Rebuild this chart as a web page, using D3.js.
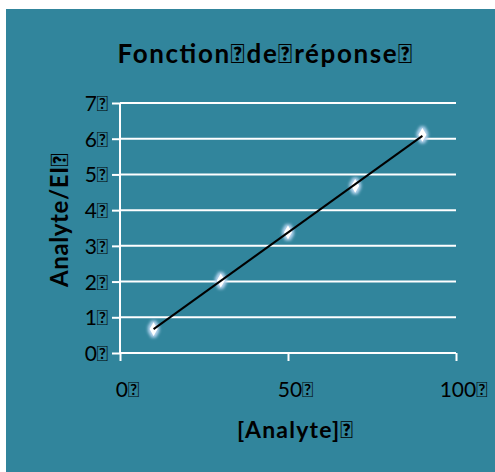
<!DOCTYPE html>
<html lang="fr">
<head>
<meta charset="utf-8">
<title>Fonction de réponse</title>
<script src="https://cdn.jsdelivr.net/npm/d3@7"></script>
<style>
  body { margin: 0; background: #fff; }
  text { font-family: Lato, "Open Sans", sans-serif; fill: #000; }
</style>
</head>
<body>
<script>
// data
var concentrations = [10, 30, 50, 70, 90];
var ratios = [0.67, 2.03, 3.38, 4.68, 6.11];
var yTicks = [0, 1, 2, 3, 4, 5, 6, 7];
var xTicks = [0, 50, 100];
var tofu = "\uE000"; // the source shows missing-glyph boxes in place of spaces

var w = 495, h = 472;
var svg = d3.select("body").append("svg").attr("width", w).attr("height", h);

var defs = svg.append("defs");
var glow = defs.append("filter").attr("id", "glow")
  .attr("x", "-150%").attr("y", "-150%").attr("width", "400%").attr("height", "400%");
glow.append("feMorphology").attr("in", "SourceAlpha").attr("operator", "dilate").attr("radius", 2).attr("result", "d");
glow.append("feGaussianBlur").attr("in", "d").attr("stdDeviation", 1.8).attr("result", "b");
glow.append("feFlood").attr("flood-color", "#b4d3ee");
glow.append("feComposite").attr("in2", "b").attr("operator", "in").attr("result", "c");
var merge = glow.append("feMerge");
merge.append("feMergeNode").attr("in", "c");
merge.append("feMergeNode").attr("in", "SourceGraphic");

// background
svg.append("rect").attr("x", 6).attr("y", 9).attr("width", w - 6).attr("height", h - 9)
  .attr("fill", "#31859c");

var x = d3.scaleLinear().domain([0, 100]).range([120, 456]);
var y = d3.scaleLinear().domain([0, 7]).range([353, 103]);

// gridlines
svg.append("g").selectAll("line").data(yTicks.filter(function(d){ return d > 0; })).enter()
  .append("line")
  .attr("x1", x(0)).attr("x2", x(100))
  .attr("y1", function(d){ return y(d); }).attr("y2", function(d){ return y(d); })
  .attr("stroke", "#fff").attr("stroke-width", 2);

// axes
var yAxis = svg.append("g").attr("transform", "translate(" + x(0) + ",0)")
  .call(d3.axisLeft(y).tickValues(yTicks).tickSize(8).tickFormat(function(d){ return d + tofu; }));
var xAxis = svg.append("g").attr("transform", "translate(0," + y(0) + ")")
  .call(d3.axisBottom(x).tickValues(xTicks).tickSize(8).tickFormat(function(d){ return d + tofu; }));

[xAxis, yAxis].forEach(function(g){
  g.select(".domain").attr("stroke", "#fff").attr("stroke-width", 2);
  g.selectAll(".tick line").attr("stroke", "#fff").attr("stroke-width", 2);
  g.selectAll(".tick text").attr("font-family", "Lato, sans-serif").attr("font-size", "21px").attr("fill", "#000");
});
yAxis.select(".domain").attr("d", "M0," + y(7) + "V" + y(0));
xAxis.select(".domain").attr("d", "M" + x(0) + ",0H" + x(100));
yAxis.selectAll(".tick text").attr("x", -12).attr("dy", "0.36em");
xAxis.selectAll(".tick text").attr("y", 44).attr("dx", 7).attr("dy", null);

// linear trendline (least squares)
var mx = d3.mean(concentrations), my = d3.mean(ratios);
var sxy = d3.sum(concentrations, function(c, i){ return (c - mx) * (ratios[i] - my); });
var sxx = d3.sum(concentrations, function(c){ return (c - mx) * (c - mx); });
var slope = sxy / sxx, icpt = my - slope * mx;
var x0 = d3.min(concentrations), x1 = d3.max(concentrations);

// markers
svg.append("g").selectAll("path").data(concentrations).enter().append("path")
  .attr("d", d3.symbol().type(d3.symbolDiamond).size(55))
  .attr("transform", function(d, i){ return "translate(" + x(d) + "," + y(ratios[i]) + ")"; })
  .attr("fill", "#fff").attr("filter", "url(#glow)");

svg.append("line")
  .attr("x1", x(x0)).attr("y1", y(slope * x0 + icpt))
  .attr("x2", x(x1)).attr("y2", y(slope * x1 + icpt))
  .attr("stroke", "#000").attr("stroke-width", 2);

// titles
svg.append("text").attr("x", 265).attr("y", 63).attr("text-anchor", "middle")
  .attr("font-size", "26px").attr("font-weight", "bold")
  .attr("textLength", 295).attr("lengthAdjust", "spacing")
  .text("Fonction" + tofu + "de" + tofu + "réponse" + tofu);
svg.append("text").attr("x", 295).attr("y", 438).attr("text-anchor", "middle")
  .attr("font-size", "23px").attr("font-weight", "bold")
  .attr("textLength", 116).attr("lengthAdjust", "spacing")
  .text("[Analyte]" + tofu);
svg.append("text").attr("transform", "translate(68,220) rotate(-90)").attr("text-anchor", "middle")
  .attr("font-size", "24px").attr("font-weight", "bold")
  .attr("textLength", 134).attr("lengthAdjust", "spacing")
  .text("Analyte/EI" + tofu);
</script>
</body>
</html>
